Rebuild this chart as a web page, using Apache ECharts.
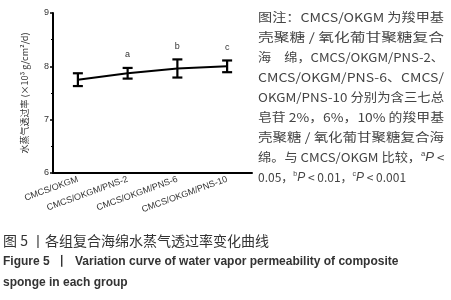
<!DOCTYPE html>
<html>
<head>
<meta charset="utf-8">
<script src="https://cdn.jsdelivr.net/npm/echarts@6/dist/echarts.min.js"></script>
<style>
html, body { margin: 0; padding: 0; background: #fff; }
#chart { width: 451px; height: 300px; }
</style>
</head>
<body>
<div id="chart"></div>
<script>
// 各组名称
var categories = ['CMCS/OKGM', 'CMCS/OKGM/PNS-2', 'CMCS/OKGM/PNS-6', 'CMCS/OKGM/PNS-10'];
// 水蒸气透过率 均值与标准差
var means = [7.75, 7.87, 7.96, 8.00];
var sds = [0.12, 0.10, 0.17, 0.11];
// 显著性标记
var marks = ['', 'a', 'b', 'c'];
var yTicks = [6, 7, 8, 9];

var noteLines = [
	'图注：CMCS/OKGM 为羧甲基',
	'壳聚糖 / 氧化葡甘聚糖复合',
	'海　绵，CMCS/OKGM/PNS-2、',
	'CMCS/OKGM/PNS-6、CMCS/',
	'OKGM/PNS-10 分别为含三七总',
	'皂苷 2%，6%，10% 的羧甲基',
	'壳聚糖 / 氧化葡甘聚糖复合海',
	'绵。与 CMCS/OKGM 比较，{s|a}{i|P} <',
	'0.05，{s|b}{i|P} < 0.01，{s|c}{i|P} < 0.001'
];

var errData = [];
for (var i = 0; i < categories.length; i++) {
	errData.push([i, means[i] - sds[i], means[i] + sds[i], marks[i]]);
}

// 量文字宽度，两端对齐
var cvs = document.createElement('canvas').getContext('2d');
cvs.font = '12px "Noto Sans CJK SC"';
function plainWidth(str) {
	var w = 0;
	var parts = str.split(/(\{[si]\|[^}]*\})/);
	for (var j = 0; j < parts.length; j++) {
		var p = parts[j];
		if (!p) continue;
		var m = p.match(/^\{([si])\|([^}]*)\}$/);
		if (m) {
			cvs.font = (m[1] === 's' ? '7px' : 'italic 12px') + ' "Noto Sans CJK SC"';
			w += cvs.measureText(m[2]).width;
			cvs.font = '12px "Noto Sans CJK SC"';
		} else {
			w += cvs.measureText(p).width;
		}
	}
	return w;
}

var noteGraphics = [];
for (var k = 0; k < noteLines.length; k++) {
	var sx = 1;
	if (k < noteLines.length - 1) {
		sx = 186 / plainWidth(noteLines[k]);
	}
	noteGraphics.push({
		type: 'text',
		x: 258,
		y: 11 + k * 20,
		scaleX: sx,
		style: {
			text: noteLines[k],
			fontSize: 12,
			fontFamily: 'Noto Sans CJK SC',
			fill: '#444',
			rich: {
				s: { fontSize: 7, verticalAlign: 'top', fill: '#444', padding: [0, 0, 6, 0] },
				i: { fontSize: 12, fontStyle: 'italic', fill: '#444' }
			}
		}
	});
}

var chart = echarts.init(document.getElementById('chart'));
var option = {
	animation: false,
	grid: { left: 53, right: 199, top: 13, bottom: 127 },
	xAxis: {
		type: 'category',
		data: categories,
		boundaryGap: true,
		axisLine: { lineStyle: { color: '#000', width: 2 } },
		axisTick: { alignWithLabel: true, length: 3, lineStyle: { color: '#000', width: 2 } },
		axisLabel: { rotate: 20, fontSize: 9, color: '#333', margin: 6, interval: 0, fontFamily: 'Liberation Sans' }
	},
	yAxis: {
		type: 'value',
		min: yTicks[0],
		max: yTicks[yTicks.length - 1],
		interval: 1,
		name: '水蒸气透过率 (×10³ g/cm²/d)',
		nameLocation: 'middle',
		nameGap: 24,
		nameTextStyle: { fontSize: 9, color: '#333', fontFamily: 'Noto Sans CJK SC' },
		axisLine: { show: true, lineStyle: { color: '#000', width: 2 } },
		axisTick: { show: true, length: 3, lineStyle: { color: '#000', width: 1.5 } },
		minorTick: { show: true, splitNumber: 2, length: 2, lineStyle: { color: '#000' } },
		splitLine: { show: false },
		axisLabel: { fontSize: 9, color: '#333', margin: 4, fontFamily: 'Liberation Sans' }
	},
	series: [
		{
			type: 'line',
			data: means,
			symbol: 'none',
			lineStyle: { color: '#000', width: 2 },
			smooth: false,
			z: 3
		},
		{
			type: 'custom',
			data: errData,
			z: 4,
			renderItem: function (params, api) {
				var x = api.value(0);
				var lo = api.coord([x, api.value(1)]);
				var hi = api.coord([x, api.value(2)]);
				var w = 5;
				var st = { stroke: '#000', lineWidth: 2.2 };
				var children = [
					{ type: 'line', shape: { x1: lo[0], y1: lo[1], x2: hi[0], y2: hi[1] }, style: st },
					{ type: 'line', shape: { x1: lo[0] - w, y1: lo[1], x2: lo[0] + w, y2: lo[1] }, style: st },
					{ type: 'line', shape: { x1: hi[0] - w, y1: hi[1], x2: hi[0] + w, y2: hi[1] }, style: st }
				];
				var m = marks[params.dataIndex];
				if (m) {
					children.push({
						type: 'text',
						x: hi[0],
						y: hi[1] - 13,
						style: { text: m, fontSize: 9, fill: '#333', align: 'center', verticalAlign: 'middle', fontFamily: 'Liberation Sans' }
					});
				}
				return { type: 'group', children: children };
			}
		}
	],
	graphic: noteGraphics.concat([
		{
			type: 'text', left: 3, top: 234,
			style: { text: '图 5 丨各组复合海绵水蒸气透过率变化曲线', fontSize: 14, fill: '#333', fontFamily: 'Noto Sans CJK SC' }
		},
		{
			type: 'text', left: 3, top: 256,
			style: { text: 'Figure 5  丨  Variation curve of water vapor permeability of composite', fontSize: 12, fontWeight: 'bold', fill: '#333', fontFamily: 'Liberation Sans' }
		},
		{
			type: 'text', left: 3, top: 277,
			style: { text: 'sponge in each group', fontSize: 12, fontWeight: 'bold', fill: '#333', fontFamily: 'Liberation Sans' }
		}
	])
};
chart.setOption(option);
</script>
</body>
</html>
